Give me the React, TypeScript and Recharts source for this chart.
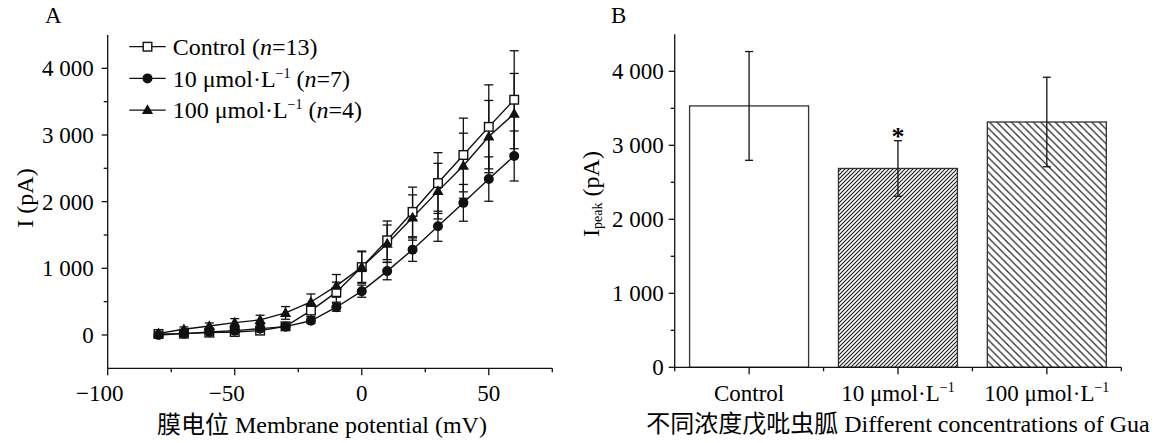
import React from "react";
import {
    LineChart,
    Line,
    XAxis,
    YAxis,
    ErrorBar,
    BarChart,
    Bar,
    LabelList,
} from "recharts";

// Panel A: I-V curves
const voltages = [-80, -70, -60, -50, -40, -30, -20, -10, 0, 10, 20, 30, 40, 50, 60];
const controlI = [15, 20, 35, 45, 65, 130, 366, 642, 1018, 1420, 1846, 2279, 2700, 3122, 3529];
const controlErr = [10, 10, 15, 20, 25, 40, 90, 150, 241, 290, 372, 456, 553, 630, 735];
const gua10I = [0, 20, 45, 65, 95, 125, 213, 416, 657, 958, 1280, 1631, 1982, 2339, 2685];
const gua10Err = [10, 10, 15, 20, 25, 30, 40, 60, 91, 130, 176, 226, 276, 333, 375];
const gua100I = [24, 85, 135, 185, 226, 331, 495, 737, 1018, 1370, 1762, 2158, 2539, 2976, 3318];
const gua100Err = [25, 35, 45, 60, 70, 95, 120, 170, 230, 280, 340, 417, 488, 542, 605];

const voltageTicks = [-100, -75, -50, -25, 0, 25, 50, 75];
const currentTicks = [0, 500, 1000, 1500, 2000, 2500, 3000, 3500, 4000];

const seriesKeys = ["control", "gua10", "gua100"];
const legendMain = ["Control", "10 \u03bcmol\u00b7L", "100 \u03bcmol\u00b7L"];
const legendSup = ["", "\u22121", "\u22121"];
const legendN = [13, 7, 4];

// Panel B: peak current
const groupNames = ["Control", "10 \u03bcmol\u00b7L", "100 \u03bcmol\u00b7L"];
const groupSup = ["", "\u22121", "\u22121"];
const peakMean = [3532, 2687, 3315];
const peakErr = [735, 375, 605];
const peakSig = ["", "*", ""];
const peakTicks = [0, 500, 1000, 1500, 2000, 2500, 3000, 3500, 4000];

const FONT = '"Liberation Serif", "Times New Roman", "Noto Sans CJK SC", serif';
const INK = "#111";

const fmtThousands = (v: number) =>
    v >= 1000 ? `${Math.floor(v / 1000)} ${String(v % 1000).padStart(3, "0")}` : String(v);
const fmtSigned = (v: number) => (v < 0 ? `\u2212${Math.abs(v)}` : String(v));

function Marker({ kind, cx, cy }: { kind: string; cx: number; cy: number }) {
    if (kind === "control") {
        return <rect x={cx - 4.3} y={cy - 4.3} width={8.6} height={8.6} fill="#fff" stroke={INK} strokeWidth={1.4} />;
    }
    if (kind === "gua10") {
        return <circle cx={cx} cy={cy} r={5} fill={INK} />;
    }
    return (
        <polygon
            points={`${cx},${cy - 5.8} ${cx + 5.6},${cy + 4} ${cx - 5.6},${cy + 4}`}
            fill={INK}
        />
    );
}

const dotFor = (kind: string) => (p: any) => {
    if (p.cx == null || p.cy == null) return <g key={`${kind}-${p.index}`} />;
    return (
        <g key={`${kind}-${p.index}`}>
            <Marker kind={kind} cx={p.cx} cy={p.cy} />
        </g>
    );
};

function VoltTick(p: any) {
    const { x, y, payload } = p;
    const v = payload.value;
    const major = v % 50 === 0;
    return (
        <g>
            <line x1={x} x2={x} y1={y} y2={y + (major ? 7 : 4)} stroke={INK} strokeWidth={1.3} />
            {major && (
                <text
                    x={x}
                    y={y + 33}
                    dx={v < 0 ? -8 : 0}
                    textAnchor="middle"
                    fontSize={23}
                    fontFamily={FONT}
                    fill="#000"
                >
                    {fmtSigned(v)}
                </text>
            )}
        </g>
    );
}

const yTick = (gap: number) => (p: any) => {
    const { x, y, payload } = p;
    const v = payload.value;
    const major = v % 1000 === 0;
    return (
        <g>
            <line x1={x - (major ? 6 : 4)} x2={x} y1={y} y2={y} stroke={INK} strokeWidth={1.3} />
            {major && (
                <text x={x - gap} y={y + 8} textAnchor="end" fontSize={23} fontFamily={FONT} fill="#000">
                    {fmtThousands(v)}
                </text>
            )}
        </g>
    );
};

function GroupTick(p: any) {
    const { x, y, payload, index } = p;
    const half = payload.offset || 74.4;
    const i = index ?? groupNames.indexOf(payload.value);
    return (
        <g>
            <line x1={x} x2={x} y1={y} y2={y + 7} stroke={INK} strokeWidth={1.3} />
            <line x1={x - half} x2={x - half} y1={y} y2={y + 4} stroke={INK} strokeWidth={1.3} />
            {i === groupNames.length - 1 && (
                <line x1={x + half} x2={x + half} y1={y} y2={y + 4} stroke={INK} strokeWidth={1.3} />
            )}
            <text x={x} y={y + 34} textAnchor="middle" fontSize={23} fontFamily={FONT} fill="#000">
                {payload.value}
                {groupSup[i] && (
                    <tspan dy={-9} fontSize={14}>
                        {groupSup[i]}
                    </tspan>
                )}
            </text>
        </g>
    );
}

function HatchBar(p: any) {
    const { x, y, width, height, index } = p;
    if (!(width > 0) || !(height > 0)) return <g />;
    const id = `hatch-${index}`;
    let fill = "#fff";
    let defs = null;
    if (index === 1) {
        fill = `url(#${id})`;
        defs = (
            <pattern id={id} patternUnits="userSpaceOnUse" width={4} height={4}>
                <rect width={4} height={4} fill="#fff" />
                <path d="M-1,1 l2,-2 M0,4 l4,-4 M3,5 l2,-2" stroke="#222" strokeWidth={1.2} />
            </pattern>
        );
    } else if (index === 2) {
        fill = `url(#${id})`;
        defs = (
            <pattern id={id} patternUnits="userSpaceOnUse" width={7.3} height={7.3}>
                <rect width={7.3} height={7.3} fill="#fff" />
                <path d="M-2,5.3 l4,4 M0,0 l7.3,7.3 M5.3,-2 l4,4" stroke="#222" strokeWidth={1.2} />
            </pattern>
        );
    }
    return (
        <g>
            {defs && <defs>{defs}</defs>}
            <rect x={x} y={y} width={width} height={height} fill={fill} stroke="#333" strokeWidth={1.3} />
        </g>
    );
}

function SigMark(p: any) {
    const { x, y, width, height, value, index } = p;
    if (!value) return null;
    const errTop = y - (peakErr[index] / peakMean[index]) * height;
    return (
        <text x={x + width / 2} y={errTop + 4} textAnchor="middle" fontSize={26} fontWeight="bold" fontFamily={FONT} fill="#000">
            {value}
        </text>
    );
}

export default function App() {
    const lineData = voltages.map((v, i) => ({
        v,
        control: controlI[i],
        controlErr: controlErr[i],
        gua10: gua10I[i],
        gua10Err: gua10Err[i],
        gua100: gua100I[i],
        gua100Err: gua100Err[i],
    }));

    const barData = groupNames.map((g, i) => ({
        group: g,
        mean: peakMean[i],
        err: peakErr[i],
        sig: peakSig[i],
    }));

    const axisLine = { stroke: INK, strokeWidth: 1.3 };

    return (
        <div style={{ position: "absolute", left: 0, top: 0, width: 1158, height: 443, background: "#fff" }}>
            <div style={{ position: "absolute", left: 0, top: 0 }}>
                <LineChart
                    width={580}
                    height={443}
                    data={lineData}
                    margin={{ top: 35, right: 27.7, bottom: 34.7, left: 0 }}
                >
                    <XAxis
                        type="number"
                        dataKey="v"
                        domain={[-100, 75]}
                        ticks={voltageTicks}
                        interval={0}
                        allowDataOverflow
                        tickSize={0}
                        tickMargin={0}
                        tickLine={false}
                        axisLine={axisLine}
                        tick={VoltTick}
                        height={40}
                    />
                    <YAxis
                        type="number"
                        domain={[-500, 4500]}
                        ticks={currentTicks}
                        interval={0}
                        allowDataOverflow
                        tickSize={0}
                        tickMargin={0}
                        tickLine={false}
                        axisLine={axisLine}
                        tick={yTick(14)}
                        width={107.7}
                    />
                    {seriesKeys.map((k) => (
                        <Line
                            key={k}
                            type="linear"
                            dataKey={k}
                            stroke={INK}
                            strokeWidth={1.4}
                            dot={dotFor(k)}
                            activeDot={false}
                            isAnimationActive={false}
                        >
                            <ErrorBar dataKey={`${k}Err`} width={4.5} stroke={INK} strokeWidth={1.3} direction="y" />
                        </Line>
                    ))}
                </LineChart>
            </div>

            <div style={{ position: "absolute", left: 590, top: 0 }}>
                <BarChart
                    width={568}
                    height={443}
                    data={barData}
                    margin={{ top: 34.3, right: 36.7, bottom: 35.7, left: 0 }}
                    barCategoryGap="10%"
                >
                    <XAxis
                        dataKey="group"
                        type="category"
                        interval={0}
                        tickSize={0}
                        tickMargin={0}
                        tickLine={false}
                        axisLine={axisLine}
                        tick={GroupTick}
                        height={40}
                    />
                    <YAxis
                        type="number"
                        domain={[0, 4500]}
                        ticks={peakTicks}
                        interval={0}
                        allowDataOverflow
                        tickSize={0}
                        tickMargin={0}
                        tickLine={false}
                        axisLine={axisLine}
                        tick={yTick(11)}
                        width={84.7}
                    />
                    <Bar dataKey="mean" shape={HatchBar} isAnimationActive={false}>
                        <ErrorBar dataKey="err" width={4} stroke={INK} strokeWidth={1.3} direction="y" />
                        <LabelList dataKey="sig" content={SigMark} />
                    </Bar>
                </BarChart>
            </div>

            <svg
                width={1158}
                height={443}
                style={{ position: "absolute", left: 0, top: 0, pointerEvents: "none" }}
                fontFamily={FONT}
                fill="#000"
            >
                <text x={45} y={23} fontSize={23}>A</text>
                <text x={611} y={23} fontSize={23}>B</text>

                {/* legend, panel A */}
                {seriesKeys.map((k, i) => {
                    const cy = 46.7 + i * 31.7;
                    return (
                        <g key={k}>
                            <line x1={129.3} x2={165.7} y1={cy} y2={cy} stroke={INK} strokeWidth={1.3} />
                            <Marker kind={k} cx={147.5} cy={cy} />
                            <text x={172.7} y={cy + 8.3} fontSize={24}>
                                {legendMain[i]}
                                {legendSup[i] && (
                                    <tspan dy={-9} fontSize={14}>
                                        {legendSup[i]}
                                    </tspan>
                                )}
                                <tspan dy={legendSup[i] ? 9 : 0}>{" ("}</tspan>
                                <tspan fontStyle="italic">n</tspan>
                                <tspan>{`=${legendN[i]})`}</tspan>
                            </text>
                        </g>
                    );
                })}

                <text x={322} y={433} fontSize={24} textAnchor="middle">
                    膜电位 Membrane potential (mV)
                </text>
                <text x={898} y={432} fontSize={24} textAnchor="middle">
                    不同浓度戊吡虫胍 Different concentrations of Gua
                </text>
                <text x={0} y={0} fontSize={24} textAnchor="middle" transform="translate(33,198) rotate(-90)">
                    I (pA)
                </text>
                <text x={0} y={0} fontSize={24} textAnchor="middle" transform="translate(599,194) rotate(-90)">
                    I
                    <tspan dy={3} fontSize={14}>peak</tspan>
                    <tspan dy={-3}>{" (pA)"}</tspan>
                </text>
            </svg>
        </div>
    );
}
